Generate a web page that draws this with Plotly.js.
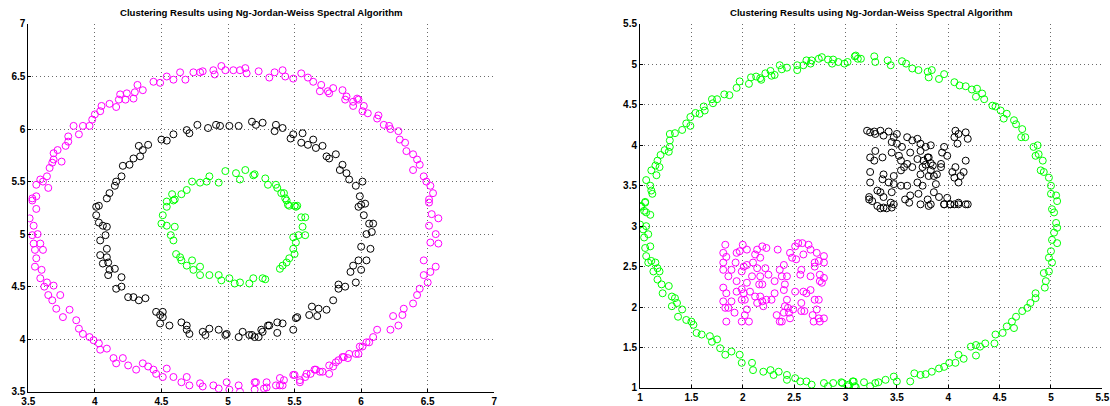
<!DOCTYPE html>
<html>
<head>
<meta charset="utf-8">
<script src="https://cdn.plot.ly/plotly-3.0.1.min.js"></script>
<style>
html,body{margin:0;padding:0;background:#fff;}
#chart{width:1110px;height:406px;}
</style>
</head>
<body>
<div id="chart"></div>
<script>
// ---------- Data ----------
const chartTitle = "Clustering Results using Ng-Jordan-Weiss Spectral Algorithm";

const leftTickVals = [3.5, 4, 4.5, 5, 5.5, 6, 6.5, 7];
const leftTickText = ["3.5", "4", "4.5", "5", "5.5", "6", "6.5", "7"];
const rightTickVals = [1, 1.5, 2, 2.5, 3, 3.5, 4, 4.5, 5, 5.5];
const rightTickText = ["1", "1.5", "2", "2.5", "3", "3.5", "4", "4.5", "5", "5.5"];

// Left panel: outer ring (magenta)
const leftMagenta = [
[3.53,5.34],[3.56,5.36],[3.56,5.47],[3.59,5.52],[3.61,5.50],[3.64,5.55],[3.65,5.44],[3.66,5.63],[3.68,5.68],[3.69,5.71],
[3.69,5.77],[3.72,5.80],[3.75,5.69],[3.78,5.84],[3.80,5.88],[3.80,5.93],[3.84,6.03],[3.88,5.95],[3.91,6.03],[3.96,6.03],
[3.98,6.09],[4.00,6.14],[4.04,6.17],[4.05,6.22],[4.11,6.24],[4.16,6.21],[4.18,6.28],[4.19,6.33],[4.23,6.28],[4.24,6.34],
[4.29,6.29],[4.30,6.35],[4.32,6.42],[4.36,6.37],[4.44,6.45],[4.49,6.44],[4.54,6.50],[4.59,6.47],[4.64,6.54],[4.68,6.47],
[4.74,6.54],[4.79,6.54],[4.81,6.55],[4.89,6.56],[4.90,6.52],[4.95,6.60],[4.98,6.56],[5.04,6.56],[5.09,6.56],[5.13,6.58],
[5.14,6.53],[5.23,6.55],[5.31,6.49],[5.35,6.54],[5.41,6.56],[5.43,6.50],[5.49,6.48],[5.55,6.53],[5.60,6.49],[5.64,6.45],
[5.69,6.36],[5.70,6.42],[5.75,6.36],[5.76,6.34],[5.79,6.39],[5.86,6.37],[5.88,6.28],[5.89,6.31],[5.94,6.22],[5.94,6.26],
[5.97,6.29],[5.98,6.28],[6.01,6.17],[6.02,6.22],[6.05,6.15],[6.12,6.10],[6.13,6.13],[6.17,6.04],[6.21,6.03],[6.22,6.00],
[6.28,5.98],[6.29,5.90],[6.33,5.87],[6.34,5.79],[6.39,5.76],[6.42,5.71],[6.39,5.61],[6.44,5.66],[6.47,5.55],[6.49,5.50],
[6.52,5.46],[6.54,5.39],[6.51,5.33],[6.51,5.30],[6.53,5.19],[6.58,5.15],[6.51,5.08],[6.56,5.00],[6.58,4.91],[6.52,4.92],
[6.47,4.75],[6.56,4.69],[6.52,4.64],[6.47,4.61],[6.50,4.54],[6.44,4.48],[6.42,4.42],[6.39,4.34],[6.32,4.29],[6.31,4.23],
[6.24,4.22],[6.28,4.13],[6.22,4.09],[6.12,4.09],[6.09,4.02],[6.06,3.97],[6.01,3.93],[5.98,3.86],[5.91,3.86],[5.87,3.83],
[5.83,3.80],[5.79,3.74],[5.76,3.67],[5.69,3.69],[5.66,3.71],[5.62,3.67],[5.58,3.64],[5.54,3.59],[5.49,3.66],[5.42,3.61],
[5.39,3.56],[5.36,3.56],[5.29,3.59],[5.27,3.53],[5.21,3.59],
[3.53,5.32],[3.56,5.24],[3.51,5.15],[3.54,5.08],[3.53,4.99],[3.57,5.00],[3.54,4.91],[3.59,4.91],[3.55,4.85],[3.61,4.85],
[3.56,4.77],[3.55,4.69],[3.60,4.66],[3.59,4.58],[3.64,4.54],[3.62,4.50],[3.69,4.51],[3.65,4.42],[3.68,4.37],[3.74,4.42],
[3.71,4.29],[3.76,4.21],[3.81,4.28],[3.86,4.18],[3.88,4.10],[3.91,4.05],[3.96,4.02],[3.99,3.99],[4.03,3.96],[4.04,3.90],
[4.09,3.91],[4.14,3.82],[4.16,3.77],[4.21,3.82],[4.25,3.75],[4.31,3.71],[4.36,3.77],[4.40,3.74],[4.44,3.71],[4.46,3.67],
[4.51,3.64],[4.54,3.72],[4.59,3.64],[4.65,3.59],[4.69,3.64],[4.71,3.56],[4.79,3.58],[4.81,3.55],[4.89,3.56],[4.93,3.53],
[4.99,3.59],[5.01,3.52],[5.08,3.56],[5.09,3.50],[5.20,3.59],[5.20,3.52],[5.29,3.54],[5.39,3.63],[5.41,3.56],[5.50,3.66],
[5.54,3.61],[5.59,3.67],[5.65,3.71],[5.71,3.69],[5.76,3.75],[5.81,3.78],[5.86,3.83],[5.90,3.82],[5.96,3.86],[5.99,3.93],
[6.04,3.97]
];

// Left panel: middle ring (black)
const leftBlack = [
[4.03,5.27],[4.09,5.34],[4.11,5.39],[4.15,5.46],[4.16,5.50],[4.20,5.55],[4.21,5.65],[4.26,5.66],[4.29,5.72],[4.33,5.84],
[4.34,5.74],[4.36,5.80],[4.40,5.85],[4.50,5.90],[4.54,5.89],[4.59,5.95],[4.69,5.99],[4.71,5.96],[4.77,6.04],[4.85,6.01],
[4.91,6.04],[4.94,6.03],[5.01,6.03],[5.08,6.03],[5.18,6.07],[5.21,6.04],[5.26,6.06],[5.35,5.98],[5.36,6.04],[5.41,6.01],
[5.47,5.91],[5.49,5.95],[5.56,5.96],[5.55,5.87],[5.60,5.85],[5.64,5.90],[5.66,5.82],[5.71,5.84],[5.74,5.74],[5.76,5.72],
[5.81,5.76],[5.86,5.66],[5.84,5.61],[5.89,5.58],[5.91,5.52],[5.96,5.46],[5.99,5.36],[6.01,5.50],[6.00,5.28],
[5.98,5.26],[6.03,5.29],[6.02,5.18],[6.06,5.10],[6.09,5.10],[6.04,5.00],[6.08,5.02],[6.00,4.88],[6.07,4.86],[6.04,4.75],
[5.98,4.75],[5.94,4.70],[6.00,4.66],[5.92,4.64],[5.96,4.54],[5.88,4.50],[5.83,4.48],[5.83,4.52],[5.79,4.37],[5.74,4.28],
[5.68,4.29],[5.63,4.31],[5.61,4.23],[5.67,4.22],[5.52,4.21],[5.51,4.20],[5.41,4.15],[5.37,4.16],[5.31,4.13],[5.49,4.09],
[5.37,4.06],[5.26,4.07],[5.23,4.02],[5.18,4.04],
[4.01,5.26],[4.01,5.18],[4.03,5.11],[4.06,5.08],[4.09,5.07],[4.08,4.99],[4.04,4.94],[4.09,4.86],[4.04,4.80],[4.09,4.78],
[4.06,4.72],[4.10,4.73],[4.11,4.66],[4.10,4.61],[4.15,4.67],[4.20,4.59],[4.16,4.48],[4.20,4.50],[4.25,4.40],[4.29,4.40],
[4.33,4.37],[4.38,4.39],[4.46,4.26],[4.49,4.23],[4.51,4.26],[4.51,4.21],[4.56,4.13],[4.49,4.15],[4.65,4.16],[4.69,4.13],
[4.69,4.09],[4.71,4.05],[4.81,4.07],[4.83,4.04],[4.86,4.10],[4.93,4.09],[4.98,4.04],[4.99,4.05],[5.08,4.02],[5.11,4.07],
[5.16,4.04],[5.20,4.02],[5.25,4.09],[5.30,4.13]
];

// Left panel: inner ring (green)
const leftGreen = [
[4.54,5.31],[4.58,5.38],[4.60,5.33],[4.65,5.38],[4.69,5.42],[4.73,5.50],[4.79,5.49],[4.84,5.50],[4.86,5.55],[4.93,5.49],
[4.98,5.60],[5.06,5.58],[5.09,5.52],[5.13,5.61],[5.19,5.56],[5.20,5.57],[5.28,5.53],[5.30,5.47],[5.36,5.47],[5.37,5.44],
[5.40,5.39],[5.42,5.39],[5.43,5.34],[5.45,5.28],[5.50,5.27],[5.52,5.27],
[4.59,5.32],[4.54,5.26],[4.51,5.18],[4.50,5.10],[4.54,5.08],[4.60,5.07],[4.57,4.99],[4.59,4.94],[4.61,4.81],[4.64,4.78],
[4.65,4.75],[4.69,4.70],[4.73,4.75],[4.74,4.66],[4.79,4.69],[4.79,4.61],[4.86,4.61],[4.93,4.61],[4.95,4.56],[5.01,4.58],
[5.05,4.53],[5.09,4.54],[5.16,4.53],[5.19,4.58],[5.26,4.58],[5.28,4.57],[5.39,4.67],[5.41,4.70],[5.44,4.73],[5.46,4.77],
[5.50,4.81],[5.49,4.86],[5.51,4.92],[5.49,4.97],[5.53,4.99],[5.58,4.99],[5.56,5.07],[5.55,5.16],[5.58,5.16],[5.51,5.26],
[5.46,5.27],[5.44,5.32]
];

// Right panel: big ring (green)
const rightGreen = [
[1.01,3.24],[1.05,3.30],[1.06,3.57],[1.10,3.50],[1.11,3.44],[1.12,3.40],[1.11,3.69],[1.16,3.63],[1.15,3.75],[1.17,3.81],
[1.19,3.73],[1.20,3.88],[1.24,3.94],[1.29,3.98],[1.28,3.92],[1.29,4.06],[1.29,4.14],[1.34,4.15],[1.41,4.19],[1.45,4.27],
[1.49,4.35],[1.49,4.24],[1.54,4.40],[1.58,4.39],[1.62,4.48],[1.63,4.43],[1.70,4.57],[1.71,4.52],[1.75,4.57],[1.82,4.63],
[1.87,4.62],[1.94,4.71],[1.97,4.79],[2.06,4.76],[2.08,4.84],[2.13,4.85],[2.17,4.83],[2.18,4.81],[2.22,4.89],[2.27,4.92],
[2.28,4.86],[2.31,4.87],[2.36,4.99],[2.38,4.94],[2.43,4.96],[2.53,4.93],[2.53,4.99],[2.59,4.99],[2.62,5.05],[2.66,5.01],
[2.67,5.05],[2.74,5.07],[2.77,5.09],[2.83,5.06],[2.87,5.01],[2.88,5.06],[2.93,5.03],[2.99,5.01],[3.09,5.10],[3.12,5.07],
[3.02,5.03],[3.10,5.11],[3.15,5.07],[3.28,5.10],[3.29,5.03],[3.41,5.05],[3.44,4.99],[3.55,5.04],[3.59,5.01],[3.65,4.95],
[3.71,4.93],[3.80,4.91],[3.81,4.84],[3.84,4.93],[3.91,4.82],[3.96,4.88],[4.06,4.78],[4.11,4.74],[4.17,4.73],[4.23,4.69],
[4.27,4.60],[4.28,4.70],[4.33,4.64],[4.35,4.57],[4.43,4.49],[4.46,4.48],[4.51,4.43],[4.54,4.33],[4.57,4.39],[4.64,4.31],
[4.66,4.26],[4.72,4.20],[4.71,4.10],[4.75,4.10],[4.83,3.98],[4.87,4.00],[4.85,3.87],[4.88,3.89],[4.92,3.81],[4.90,3.69],
[4.93,3.67],[4.98,3.60],[5.00,3.50],[5.00,3.40],[5.05,3.38],[5.06,3.31],[5.01,3.21],
[5.03,3.17],[5.05,3.04],[5.06,2.98],[5.03,2.92],[5.01,2.83],[5.06,2.79],[5.00,2.69],[4.98,2.61],[5.01,2.55],[4.98,2.44],
[4.93,2.42],[4.95,2.32],[4.94,2.24],[4.85,2.17],[4.85,2.11],[4.80,2.05],[4.77,1.99],[4.72,1.95],[4.66,1.88],[4.62,1.82],
[4.64,1.74],[4.57,1.76],[4.53,1.68],[4.46,1.66],[4.45,1.55],[4.36,1.55],[4.31,1.51],[4.27,1.53],[4.22,1.51],[4.27,1.40],
[4.15,1.36],[4.10,1.41],[4.07,1.31],[4.01,1.31],[3.96,1.26],[3.91,1.24],[3.84,1.20],[3.78,1.17],[3.73,1.16],[3.67,1.18],
[3.63,1.08],[3.50,1.08],[3.47,1.14],[3.39,1.10],[3.32,1.07],[3.29,1.06],[3.24,1.02],[3.18,1.07],[3.10,1.01],[3.07,1.08],
[3.02,1.02],[2.97,1.06],
[1.01,3.25],[1.05,3.29],[1.04,3.19],[1.06,3.17],[1.10,3.14],[1.00,3.02],[1.03,2.96],[1.06,3.00],[1.04,2.86],[1.08,2.90],
[1.05,2.73],[1.10,2.75],[1.06,2.63],[1.11,2.57],[1.08,2.55],[1.15,2.55],[1.13,2.44],[1.17,2.48],[1.17,2.34],[1.19,2.44],
[1.21,2.28],[1.28,2.26],[1.22,2.17],[1.31,2.13],[1.34,2.11],[1.36,2.05],[1.31,2.01],[1.41,1.97],[1.37,1.88],[1.45,1.84],
[1.50,1.82],[1.52,1.78],[1.55,1.68],[1.60,1.66],[1.68,1.64],[1.70,1.57],[1.75,1.60],[1.78,1.49],[1.83,1.41],[1.89,1.45],
[1.97,1.41],[1.99,1.31],[2.09,1.31],[2.10,1.22],[2.20,1.20],[2.27,1.22],[2.30,1.16],[2.35,1.20],[2.43,1.16],[2.43,1.10],
[2.51,1.12],[2.56,1.08],[2.62,1.08],[2.67,1.04],[2.79,1.06],[2.83,1.02],[2.88,1.06],[2.96,1.07],[3.03,1.04],[3.08,1.08],
[3.09,1.02]
];

// Right panel: upper-right square (black)
const rightBlack = [
[3.21,4.18],[3.24,4.16],[3.28,4.17],[3.29,4.14],[3.34,4.18],[3.37,4.12],[3.42,4.17],[3.47,4.10],[3.50,4.14],[3.45,4.04],
[3.50,4.02],[3.29,3.93],[3.24,3.85],[3.28,3.81],[3.45,3.91],[3.52,3.87],[3.54,3.81],[3.60,4.10],[3.65,4.06],[3.70,4.08],
[3.73,4.02],[3.78,3.98],[3.83,4.00],[3.73,3.93],[3.80,3.85],[3.76,3.81],[3.83,3.78],[3.85,3.75],[3.78,3.76],[3.70,3.83],
[3.63,3.91],[3.60,3.77],[3.65,3.73],[3.57,3.73],[3.54,3.69],[3.47,3.62],[3.37,3.64],[3.36,3.58],[3.42,3.54],[3.47,3.52],
[3.54,3.50],[3.60,3.50],[3.24,3.67],[3.24,3.54],[3.31,3.44],[3.34,3.42],[3.23,3.36],[3.26,3.31],[3.37,3.36],[3.44,3.29],
[3.47,3.27],[3.40,3.22],[3.34,3.22],[3.58,3.33],[3.63,3.38],[3.71,3.40],[3.75,3.50],[3.70,3.54],[3.73,3.64],[3.81,3.62],
[3.83,3.69],[3.86,3.62],[3.88,3.52],[3.86,3.42],[3.80,3.33],[3.83,3.27],[3.91,3.36],[3.96,3.27],[3.93,3.73],[3.89,3.64],
[3.94,3.91],[3.99,3.87],[3.96,3.98],[3.93,3.77],[4.04,3.67],[4.07,3.73],[4.06,3.60],[4.12,3.62],[4.10,3.54],[4.17,3.81],
[4.15,3.67],[3.99,3.35],[4.02,3.27],[4.06,3.27],[4.10,3.29],[4.17,3.27],[4.07,4.18],[4.10,4.14],[4.17,4.16],[4.19,4.08],
[4.09,4.02],[4.06,4.10],[3.75,3.73],[3.81,3.85],[3.55,3.98],[3.36,3.85],[3.45,3.42],[3.62,3.29],
[3.23,3.33],[3.31,3.25],[3.37,3.23],[3.45,3.23],[3.73,3.27],[3.81,3.25],[3.96,3.27],[4.02,3.27],[4.10,3.27],[4.19,3.27]
];

// Right panel: lower-left square (magenta)
const rightMagenta = [
[1.83,2.77],[1.81,2.67],[1.84,2.62],[1.81,2.55],[1.81,2.46],[1.86,2.38],[1.89,2.46],[1.93,2.55],[1.94,2.67],[1.97,2.69],
[1.94,2.32],[1.99,2.44],[2.01,2.50],[2.00,2.77],[2.04,2.71],[1.81,2.24],[1.84,2.17],[1.81,2.07],[1.83,1.99],[1.86,1.99],
[1.92,1.93],[1.84,1.82],[1.89,2.07],[1.94,2.19],[1.99,2.22],[2.01,2.17],[1.99,2.09],[2.02,2.09],[2.04,1.97],[2.02,1.90],
[1.99,1.82],[2.06,1.82],[2.04,2.52],[2.04,2.30],[2.07,2.19],[2.10,2.55],[2.09,2.38],[2.12,2.65],[2.14,2.71],[2.17,2.61],
[2.19,2.75],[2.14,2.48],[2.16,2.28],[2.12,2.13],[2.17,2.13],[2.14,2.05],[2.19,2.07],[2.19,2.28],[2.20,2.01],[2.17,2.38],
[2.23,2.73],[2.22,2.48],[2.25,2.40],[2.23,2.09],[2.28,2.09],[2.31,2.17],[2.31,2.32],[2.33,1.90],[2.34,2.71],[2.36,1.82],
[2.36,2.46],[2.38,2.38],[2.40,2.21],[2.40,2.52],[2.41,2.01],[2.38,1.82],[2.40,1.93],[2.43,2.09],[2.41,2.28],[2.43,2.38],
[2.44,1.99],[2.45,1.93],[2.46,2.67],[2.48,2.61],[2.46,1.86],[2.49,1.97],[2.51,2.19],[2.51,2.75],[2.54,2.79],[2.52,2.59],
[2.56,2.40],[2.57,2.46],[2.58,2.79],[2.59,2.65],[2.57,2.05],[2.57,1.95],[2.59,2.19],[2.62,2.17],[2.60,1.95],[2.64,2.77],
[2.66,2.71],[2.66,2.38],[2.66,2.21],[2.68,1.90],[2.69,1.82],[2.70,2.09],[2.72,2.67],[2.70,2.50],[2.70,2.55],[2.72,1.97],
[2.74,2.09],[2.74,1.86],[2.75,2.40],[2.75,2.32],[2.74,2.57],[2.79,2.63],[2.79,2.55],[2.79,2.36],[2.77,2.30],[2.79,1.86],
[2.75,1.82]
];

// ---------- Build traces ----------
function scatter(pts, color, xa, ya) {
  return {
    type: 'scatter', mode: 'markers',
    x: pts.map(p => p[0]), y: pts.map(p => p[1]),
    xaxis: xa, yaxis: ya,
    marker: {symbol: 'circle-open', size: 7, color: color, line: {width: 1, color: color}},
    hoverinfo: 'x+y', showlegend: false
  };
}

const traces = [
  scatter(leftMagenta, '#ff00ff', 'x', 'y'),
  scatter(leftBlack, '#000000', 'x', 'y'),
  scatter(leftGreen, '#00ff00', 'x', 'y'),
  scatter(rightGreen, '#00ff00', 'x2', 'y2'),
  scatter(rightBlack, '#000000', 'x2', 'y2'),
  scatter(rightMagenta, '#ff00ff', 'x2', 'y2')
];

const tickFont = {family: 'Liberation Sans, Arial, sans-serif', size: 10, color: '#000', weight: 'bold'};

function axis(domain, range, vals, text, anchor) {
  return {
    domain: domain, range: range, anchor: anchor,
    tickmode: 'array', tickvals: vals, ticktext: text,
    showgrid: true, gridcolor: '#6a6a6a', gridwidth: 1, griddash: '1px,3px',
    zeroline: false, showline: true, linecolor: '#000', linewidth: 1,
    ticks: 'inside', ticklen: 3, tickcolor: '#000', tickwidth: 1,
    tickfont: tickFont, mirror: false, fixedrange: true
  };
}

const layout = {
  width: 1110, height: 406,
  margin: {l: 0, r: 0, t: 0, b: 0},
  paper_bgcolor: '#ffffff', plot_bgcolor: '#ffffff',
  showlegend: false,
  xaxis: axis([0.0255, 0.4453], [3.5, 7], leftTickVals, leftTickText, 'y'),
  yaxis: axis([0.0352, 0.9409], [3.5, 7], leftTickVals, leftTickText, 'x'),
  xaxis2: axis([0.5766, 0.9931], [1, 5.5], rightTickVals, rightTickText, 'y2'),
  yaxis2: axis([0.0446, 0.9409], [1, 5.5], rightTickVals, rightTickText, 'x2'),
  annotations: [
    {text: '<b>' + chartTitle + '</b>', xref: 'paper', yref: 'paper', x: (0.0255 + 0.4453) / 2, y: 1 - 12.5 / 406,
     xanchor: 'center', yanchor: 'middle', showarrow: false,
     font: {family: 'Liberation Sans, Arial, sans-serif', size: 9.6, color: '#000'}},
    {text: '<b>' + chartTitle + '</b>', xref: 'paper', yref: 'paper', x: (0.5766 + 0.9931) / 2, y: 1 - 12.5 / 406,
     xanchor: 'center', yanchor: 'middle', showarrow: false,
     font: {family: 'Liberation Sans, Arial, sans-serif', size: 9.6, color: '#000'}}
  ]
};

Plotly.newPlot('chart', traces, layout, {staticPlot: true, displayModeBar: false});
</script>
</body>
</html>
